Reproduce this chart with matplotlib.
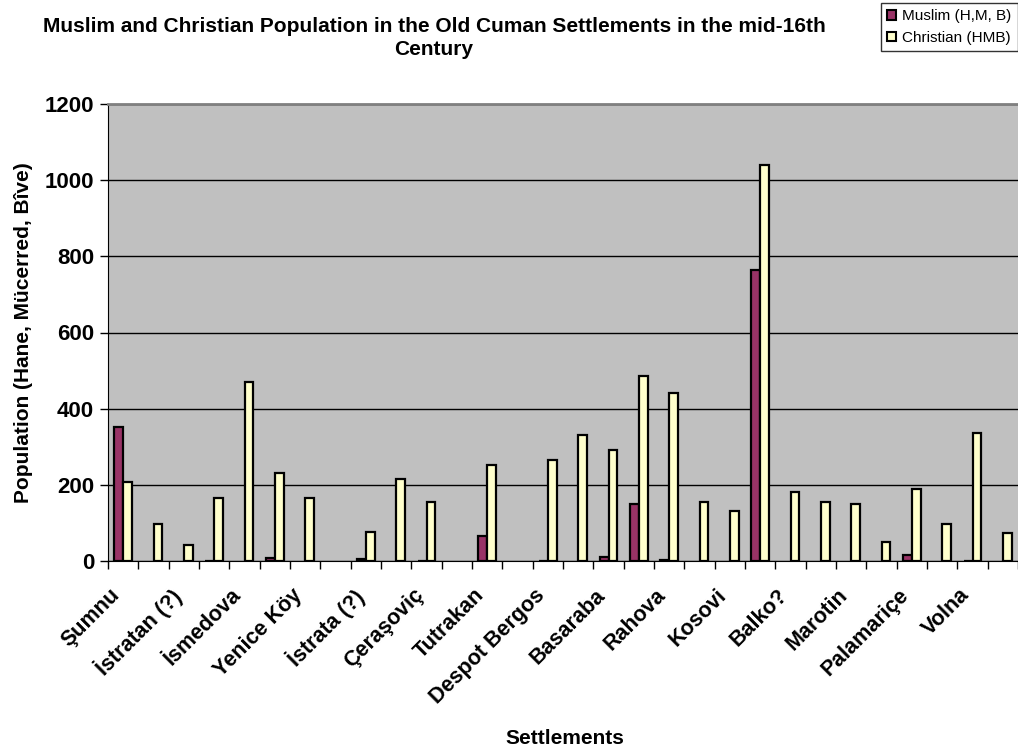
import matplotlib
matplotlib.use("Agg")
import matplotlib.pyplot as plt
from matplotlib.patches import Patch
import numpy as np

plt.rcParams['font.family'] = ['Liberation Sans', 'DejaVu Sans']

# 30 settlements; Excel only printed every second name on the axis
settlements = [
    "Şumnu", "", "İstratan (?)", "", "İsmedova", "", "Yenice Köy", "",
    "İstrata (?)", "", "Çeraşoviç", "", "Tutrakan", "", "Despot Bergos", "",
    "Basaraba", "", "Rahova", "", "Kosovi", "", "Balko?", "", "Marotin", "",
    "Palamariçe", "", "Volna", "",
]
muslim = [352, 0, 0, 1, 0, 9, 0, 0, 5, 0, 1, 0, 66, 0, 1, 0,
          11, 150, 2, 0, 0, 765, 0, 0, 0, 0, 15, 0, 1, 0]
christian = [208, 97, 42, 166, 470, 232, 166, 0, 76, 216, 156, 0, 252, 0, 264, 331,
             292, 486, 440, 156, 131, 1040, 180, 156, 150, 49, 188, 97, 335, 74]
y_ticks = [0, 200, 400, 600, 800, 1000, 1200]

W, H = 1018, 750
fig = plt.figure(figsize=(W / 100, H / 100), dpi=100)
left, right, top, bottom = 108, 1018, 104, 561
ax = fig.add_axes([left / W, 1 - bottom / H, (right - left) / W, (bottom - top) / H])
ax.set_facecolor('#C0C0C0')

n = len(settlements)
x = np.arange(n)
bw = 0.29
m = np.array(muslim)
c = np.array(christian)
# empty cells get no bar at all
ax.bar(x[m > 0] + 0.355, m[m > 0], width=bw, color='#993366', edgecolor='black',
       linewidth=1.6, zorder=3)
ax.bar(x[c > 0] + 0.645, c[c > 0], width=bw, color='#FFFFCC', edgecolor='black',
       linewidth=1.6, zorder=3)

ax.set_xlim(0, n)
ax.set_ylim(0, 1200)
ax.set_yticks(y_ticks)
ax.set_yticklabels([str(v) for v in y_ticks], fontsize=16, fontweight='bold')
ax.yaxis.grid(True, color='black', linewidth=1.0, zorder=1)
ax.set_axisbelow(True)

ax.set_xticks(np.arange(n + 1))
ax.set_xticklabels([])
ax.tick_params(axis='x', which='major', direction='out', length=6, width=1)
ax.tick_params(axis='y', direction='out', length=6, width=1, pad=4)

# rotated category names
for i, name in enumerate(settlements):
    if name:
        ax.text(i + 0.5 - 0.45, -62, name, rotation=45, rotation_mode='anchor',
                ha='right', va='top', fontsize=15.5, fontweight='bold',
                transform=ax.transData, clip_on=False)

ax.spines['right'].set_visible(False)
ax.spines['top'].set_color('#808080')
ax.spines['top'].set_linewidth(2)
ax.spines['left'].set_color('black')
ax.spines['bottom'].set_color('black')

ax.set_ylabel("Population (Hane, Mücerred, Bîve)", fontsize=15, fontweight='bold', labelpad=8)
fig.text(565 / W, 1 - 738 / H, "Settlements", ha='center', va='center',
         fontsize=15, fontweight='bold')
fig.text(434 / W, 1 - 38 / H, "Muslim and Christian Population in the Old Cuman Settlements in the mid-16th\nCentury",
         ha='center', va='center', fontsize=15, fontweight='bold', linespacing=1.25)

handles = [Patch(facecolor='#993366', edgecolor='black', linewidth=1.5),
           Patch(facecolor='#FFFFCC', edgecolor='black', linewidth=1.5)]
leg = fig.legend(handles, ["Muslim (H,M, B)", "Christian (HMB)"],
                 loc='upper left', bbox_to_anchor=(881 / W, 1 - 3 / H), borderaxespad=0,
                 fontsize=11, frameon=True, fancybox=False, handlelength=0.6,
                 handleheight=0.6, handletextpad=0.4, borderpad=0.4, labelspacing=0.5)
leg.get_frame().set_edgecolor('black')
leg.get_frame().set_linewidth(1)

fig.savefig("out.png", dpi=100, facecolor='white')
